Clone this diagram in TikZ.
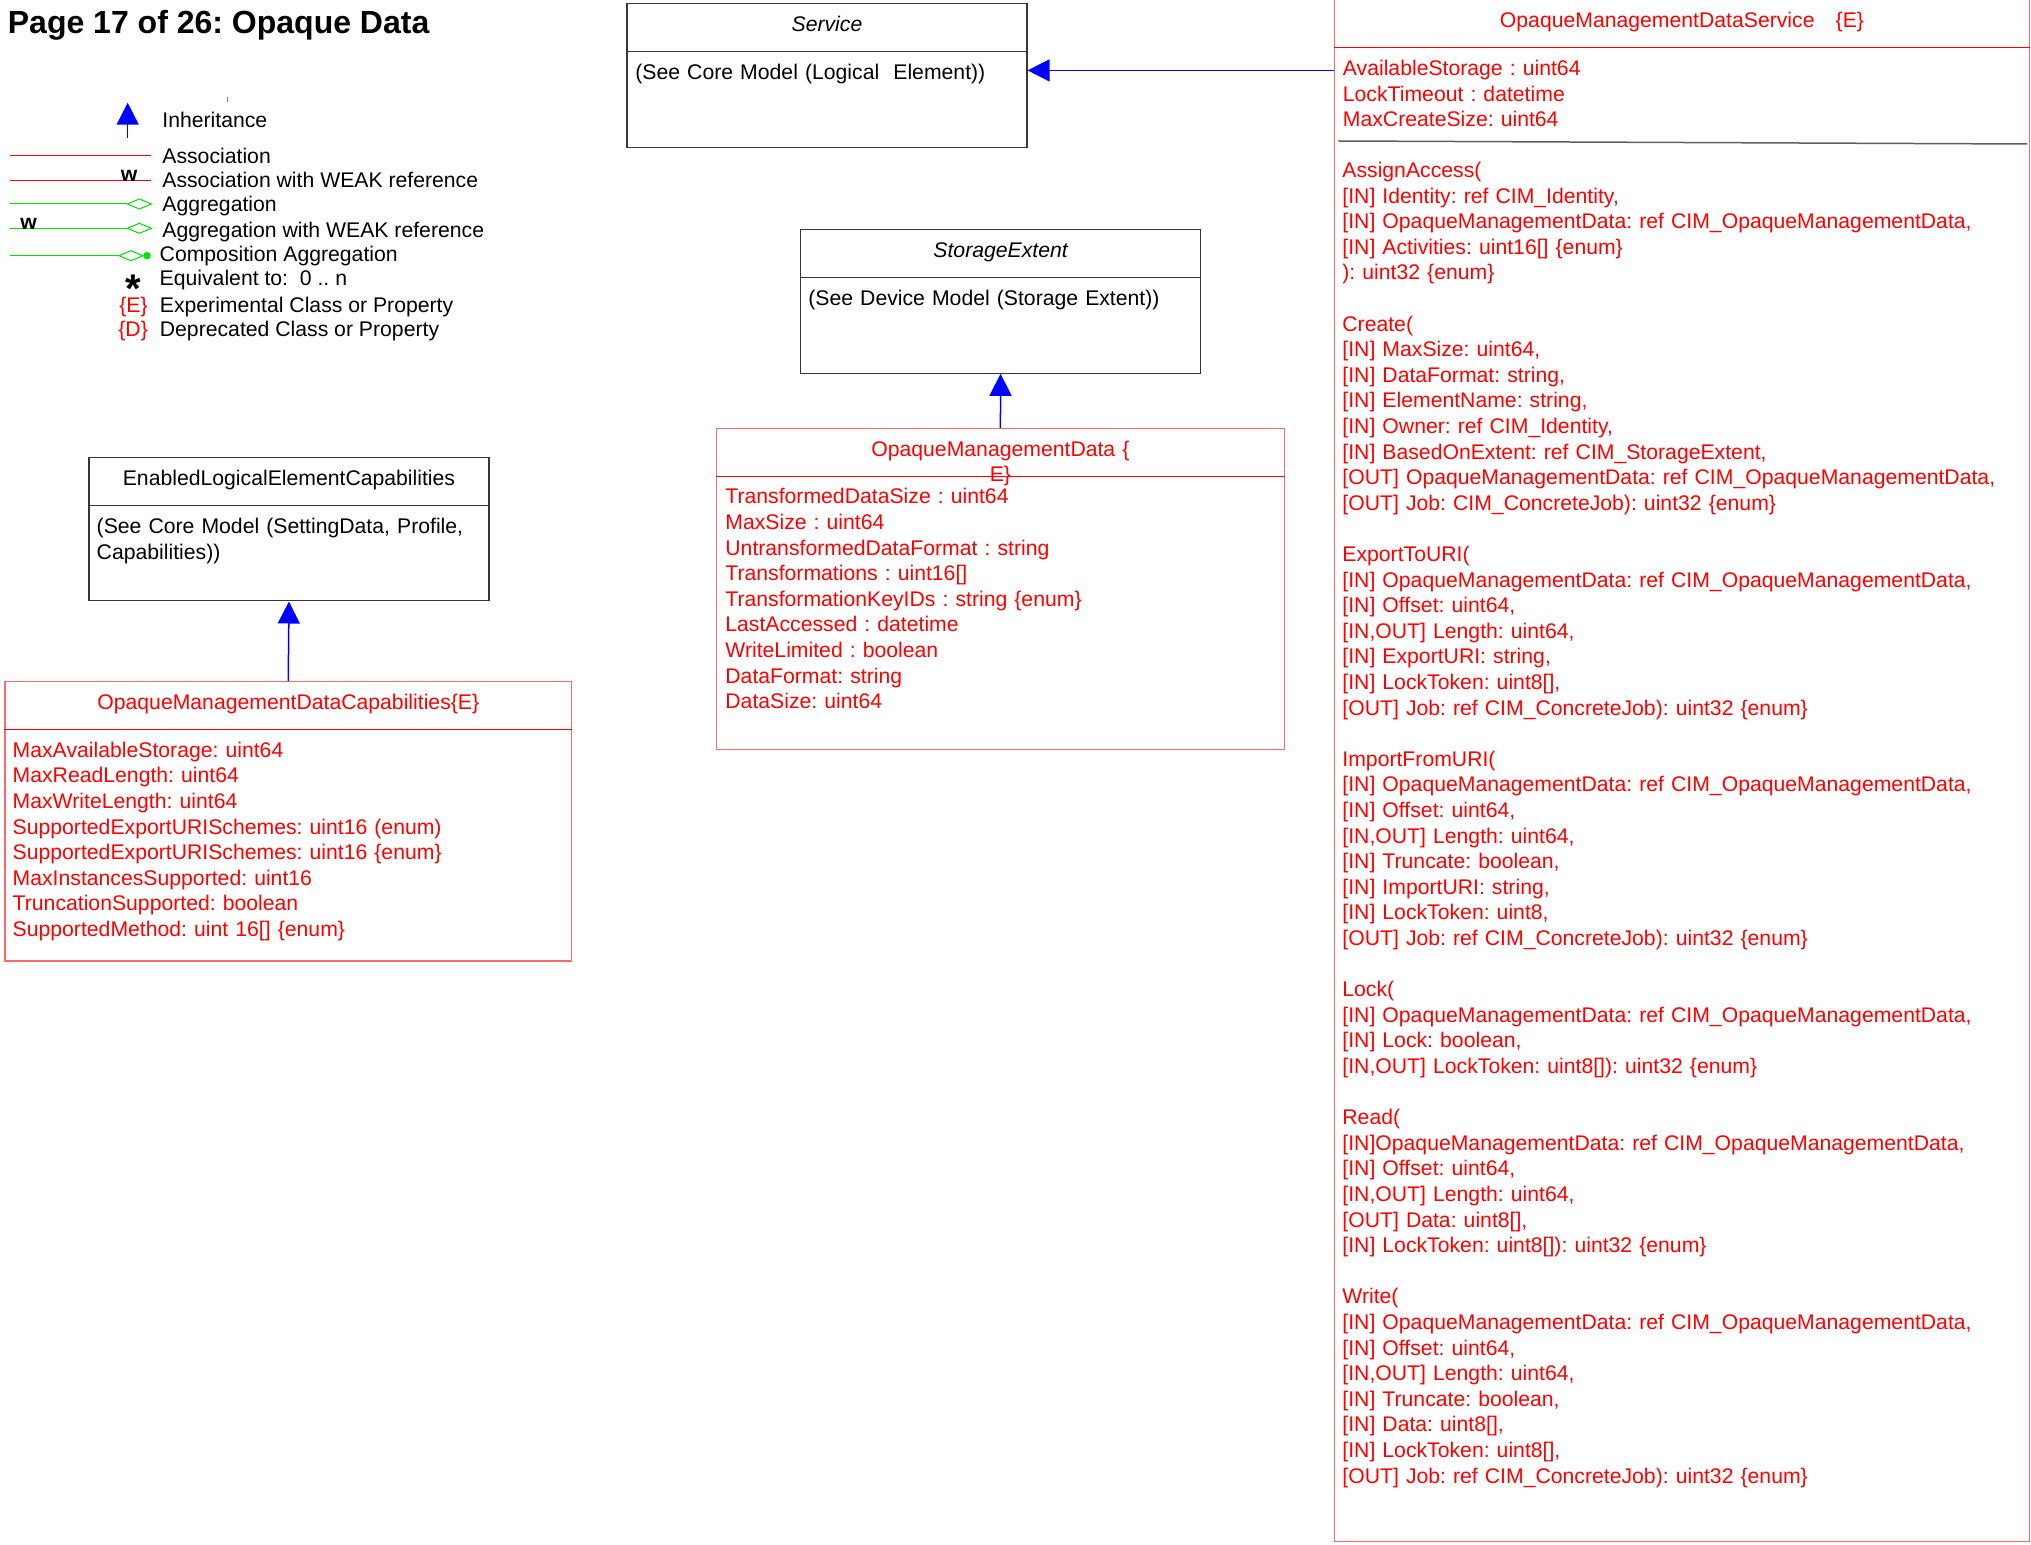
\documentclass[tikz,border=0pt]{standalone}
\usepackage{fontspec}
\setmainfont{Liberation Sans}
\usetikzlibrary{shapes.geometric, arrows.meta, positioning, calc, fit}

\definecolor{umlred}{RGB}{255,0,0}
\definecolor{umlpink}{RGB}{255,105,105}
\definecolor{umlgray}{RGB}{55,55,55}
\definecolor{umlblue}{RGB}{0,0,255}
\definecolor{umlgreen}{RGB}{0,225,0}

\begin{document}
\frenchspacing
\begin{tikzpicture}[
    x=0.5pt, y=-0.5pt,
    cls/.style={draw=umlgray, line width=0.6pt, inner sep=0pt},
    ecls/.style={draw=umlpink, line width=0.6pt, inner sep=0pt},
    split/.style={draw=umlgray, line width=0.6pt},
    esplit/.style={draw=umlred, line width=0.6pt},
    txt/.style={inner sep=0pt, anchor=base west, align=left, text width=#1,
        font=\fontsize{10.6pt}{12.8pt}\selectfont},
    txt/.default=300pt,
    head/.style={inner sep=0pt, anchor=base, align=center, text width=300pt,
        font=\fontsize{10.6pt}{12.8pt}\selectfont},
    lbl/.style={inner sep=0pt, anchor=base west, font=\fontsize{10.6pt}{12.8pt}\selectfont},
    weak/.style={inner sep=0pt, anchor=base west, font=\fontsize{10.6pt}{12.8pt}\selectfont\bfseries},
    inh/.style={draw=umlblue, line width=0.75pt, -{Triangle[length=11pt, width=11pt]}},
    asc/.style={draw=umlred, line width=0.5pt},
    agg/.style={draw=umlgreen, line width=0.5pt},
    aggr/.style={diamond, draw=umlgreen, fill=white, aspect=2.35, line width=0.5pt,
        minimum width=12.2pt, minimum height=5.2pt, inner sep=0pt},
    comp/.style={circle, fill=umlgreen, minimum size=3.7pt, inner sep=0pt}
]
\useasboundingbox (0,0) rectangle (2031,1545);

% --- title ---
\node[inner sep=0pt, anchor=base west, font=\fontsize{16pt}{19pt}\selectfont\bfseries] (title)
    at (7.5,33.5) {Page 17 of 26: Opaque Data};

% --- legend ---
\draw[gray, line width=0.4pt] (227.3,96.7) -- (227.3,101.7);
\draw[inh] (127.7,138.3) -- (127.7,102.7);
\node[lbl] (lgInh) at (162,127.7) {Inheritance};
\draw[asc] (10,156) -- (151,156);
\node[lbl] (lgAsc) at (162,163.3) {Association};
\draw[asc] (10,180.3) -- (151,180.3);
\node[weak] (wAsc) at (120.5,182) {w};
\node[lbl] (lgAscW) at (162,187.3) {Association with WEAK reference};
\draw[agg] (10,204) -- (126.7,204) node[aggr, anchor=west] (dAgg) {};
\node[lbl] (lgAgg) at (162,211.3) {Aggregation};
\draw[agg] (10,228.3) -- (126.7,228.3) node[aggr, anchor=west] (dAggW) {};
\node[weak] (wAgg) at (20,230) {w};
\node[lbl] (lgAggW) at (162,237.3) {Aggregation with WEAK reference};
\draw[agg] (10,255.7) -- (118.3,255.7) node[aggr, anchor=west] (dComp) {};
\node[comp] (pComp) at (147,255.7) {};
\node[lbl] (lgComp) at (159.3,262) {Composition Aggregation};
\node[inner sep=0pt, anchor=base west, font=\fontsize{20pt}{24pt}\selectfont\bfseries] (lgStar)
    at (125.5,302.3) {*};
\node[lbl] (lgEq) at (159.3,285.3) {Equivalent to:\ \ 0 .. n};
\node[lbl, text=umlred] (lgE) at (119,312.3) {\{E\}};
\node[lbl] (lgExp) at (159.5,312.3) {Experimental Class or Property};
\node[lbl, text=umlred] (lgD) at (118,336.3) {\{D\}};
\node[lbl] (lgDep) at (159.5,336.3) {Deprecated Class or Property};

% --- Service (top middle) ---
\node[cls, fit={(627,3.3) (1027,147.7)}] (SV) {};
\draw[split] (SV.west |- 0,51.7) -- (SV.east |- 0,51.7);
\node[head, font=\fontsize{10.6pt}{12.8pt}\selectfont\itshape] (SVname) at (827,31.5) {Service};
\node[txt] (SVbody) at (635,79.2) {(See Core Model (Logical\ \ Element))};

% --- StorageExtent (middle) ---
\node[cls, fit={(800.7,229.4) (1200.5,373.2)}] (SE) {};
\draw[split] (SE.west |- 0,277.2) -- (SE.east |- 0,277.2);
\node[head, font=\fontsize{10.6pt}{12.8pt}\selectfont\itshape] (SEname) at (1000.6,257.2) {StorageExtent};
\node[txt] (SEbody) at (808,305.3) {(See Device Model (Storage Extent))};

% --- OpaqueManagementData (below StorageExtent) ---
\node[ecls, fit={(716.7,428.5) (1284.2,749.5)}] (OMD) {};
\draw[esplit] (OMD.west |- 0,476.3) -- (OMD.east |- 0,476.3);
\node[head, text=umlred] (OMDname) at (1000.4,456.4) {OpaqueManagementData \{\\E\}};
\node[txt, text=umlred] (OMDattr) at (725,504) {
    TransformedDataSize : uint64\\
    MaxSize : uint64\\
    UntransformedDataFormat : string\\
    Transformations : uint16[]\\
    TransformationKeyIDs : string \{enum\}\\
    LastAccessed : datetime\\
    WriteLimited : boolean\\
    DataFormat: string\\
    DataSize: uint64
};

% --- EnabledLogicalElementCapabilities (left) ---
\node[cls, fit={(89,457.2) (489,600.9)}] (ELEC) {};
\draw[split] (ELEC.west |- 0,505.4) -- (ELEC.east |- 0,505.4);
\node[head] (ELECname) at (289,485.4) {EnabledLogicalElementCapabilities};
\node[txt] (ELECbody) at (96.3,533.5) {(See Core Model (SettingData, Profile,\\Capabilities))};

% --- OpaqueManagementDataCapabilities (below ELEC) ---
\node[ecls, fit={(5,681.7) (571.5,961)}] (CAP) {};
\draw[esplit] (CAP.west |- 0,729.3) -- (CAP.east |- 0,729.3);
\node[head, text=umlred] (CAPname) at (288.3,709.9) {OpaqueManagementDataCapabilities\{E\}};
\node[txt, text=umlred] (CAPattr) at (12.3,757.4) {
    MaxAvailableStorage: uint64\\
    MaxReadLength: uint64\\
    MaxWriteLength: uint64\\
    SupportedExportURISchemes: uint16 (enum)\\
    SupportedExportURISchemes: uint16 \{enum\}\\
    MaxInstancesSupported: uint16\\
    TruncationSupported: boolean\\
    SupportedMethod: uint 16[] \{enum\}
};

% --- OpaqueManagementDataService (right, full height) ---
\node[ecls, fit={(1334.3,-3) (2029.5,1541.7)}] (OMDS) {};
\draw[esplit] (OMDS.west |- 0,47.5) -- (OMDS.east |- 0,47.5);
\draw[draw=umlgray!80, line width=0.75pt] ($(OMDS.west |- 0,141)+(4.7,0)$) -- ($(OMDS.east |- 0,144)+(-3,0)$);
\node[head, text=umlred] (OMDSname) at (1682,27.5) {OpaqueManagementDataService\ \ \ \{E\}};
\node[txt, text=umlred] (OMDSattr) at (1342.5,75.8) {
    AvailableStorage : uint64\\
    LockTimeout : datetime\\
    MaxCreateSize: uint64
};
\node[txt=345pt, text=umlred] (OMDSops) at (1342,177.5) {
    AssignAccess(\\
    {}[IN] Identity: ref CIM\_Identity,\\
    {}[IN] OpaqueManagementData: ref CIM\_OpaqueManagementData,\\
    {}[IN] Activities: uint16[] \{enum\}\\
    ): uint32 \{enum\}\\[12.8pt]
    Create(\\
    {}[IN] MaxSize: uint64,\\
    {}[IN] DataFormat: string,\\
    {}[IN] ElementName: string,\\
    {}[IN] Owner: ref CIM\_Identity,\\
    {}[IN] BasedOnExtent: ref CIM\_StorageExtent,\\
    {}[OUT] OpaqueManagementData: ref CIM\_OpaqueManagementData,\\
    {}[OUT] Job: CIM\_ConcreteJob): uint32 \{enum\}\\[12.8pt]
    ExportToURI(\\
    {}[IN] OpaqueManagementData: ref CIM\_OpaqueManagementData,\\
    {}[IN] Offset: uint64,\\
    {}[IN,OUT] Length: uint64,\\
    {}[IN] ExportURI: string,\\
    {}[IN] LockToken: uint8[],\\
    {}[OUT] Job: ref CIM\_ConcreteJob): uint32 \{enum\}\\[12.8pt]
    ImportFromURI(\\
    {}[IN] OpaqueManagementData: ref CIM\_OpaqueManagementData,\\
    {}[IN] Offset: uint64,\\
    {}[IN,OUT] Length: uint64,\\
    {}[IN] Truncate: boolean,\\
    {}[IN] ImportURI: string,\\
    {}[IN] LockToken: uint8,\\
    {}[OUT] Job: ref CIM\_ConcreteJob): uint32 \{enum\}\\[12.8pt]
    Lock(\\
    {}[IN] OpaqueManagementData: ref CIM\_OpaqueManagementData,\\
    {}[IN] Lock: boolean,\\
    {}[IN,OUT] LockToken: uint8[]): uint32 \{enum\}\\[12.8pt]
    Read(\\
    {}[IN]OpaqueManagementData: ref CIM\_OpaqueManagementData,\\
    {}[IN] Offset: uint64,\\
    {}[IN,OUT] Length: uint64,\\
    {}[OUT] Data: uint8[],\\
    {}[IN] LockToken: uint8[]): uint32 \{enum\}\\[12.8pt]
    Write(\\
    {}[IN] OpaqueManagementData: ref CIM\_OpaqueManagementData,\\
    {}[IN] Offset: uint64,\\
    {}[IN,OUT] Length: uint64,\\
    {}[IN] Truncate: boolean,\\
    {}[IN] Data: uint8[],\\
    {}[IN] LockToken: uint8[],\\
    {}[OUT] Job: ref CIM\_ConcreteJob): uint32 \{enum\}
};

% --- Inheritance ---
\coordinate (SVin) at ($(SV.north east)!0.465!(SV.south east)$);
\draw[inh] (OMDS.west |- SVin) -- (SVin);
\draw[inh] (OMD.north) -- (SE.south);
\draw[inh] (CAP.north) -- (ELEC.south);

\end{tikzpicture}
\end{document}
